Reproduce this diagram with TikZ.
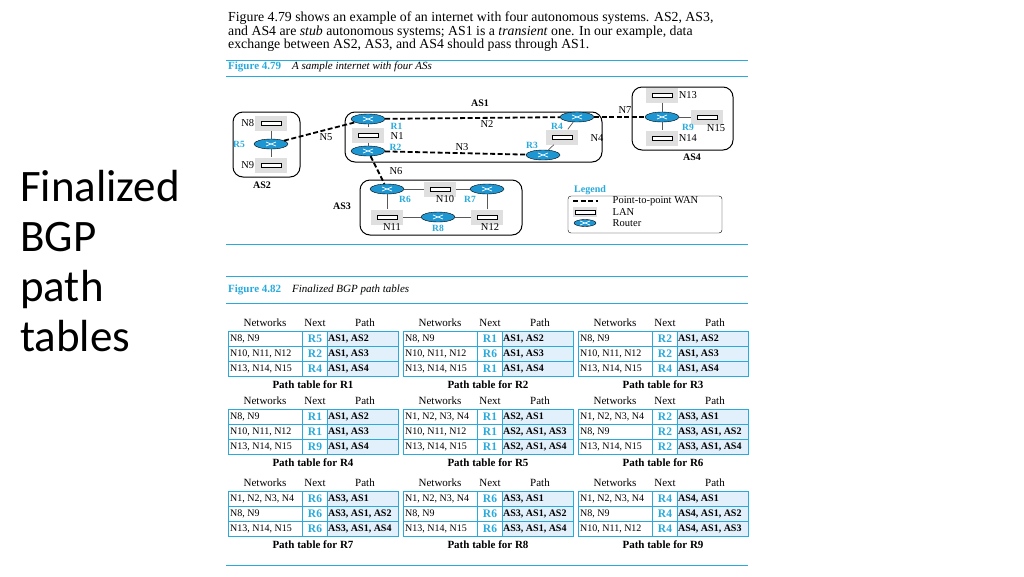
\documentclass[tikz,border=0pt]{standalone}
\usepackage{fontspec}
\setmainfont{Liberation Serif}
\newfontfamily\slidefont{Carlito}
\usetikzlibrary{positioning,shapes.geometric}
\definecolor{figblue}{RGB}{40,170,220}
\definecolor{pathfill}{RGB}{225,240,250}
\definecolor{routerblue}{RGB}{30,150,210}
\tikzset{
  router/.style={ellipse,draw=black,fill=routerblue,minimum width=34pt,minimum height=10pt,inner sep=0pt,
    path picture={\draw[white,line width=.7pt] ([xshift=-5pt,yshift=-2pt]path picture bounding box.center) -- ++(10pt,4pt)
      ([xshift=-5pt,yshift=2pt]path picture bounding box.center) -- ++(10pt,-4pt);}},
  lan/.style={fill=gray!25,minimum width=32pt,minimum height=15pt,inner sep=0pt,
    path picture={\draw[fill=white] ([xshift=-10pt,yshift=-2pt]path picture bounding box.center) rectangle ++(20pt,4pt);}},
  asbox/.style={draw,rounded corners=10pt,line width=1pt},
  wan/.style={line width=1.8pt,dash pattern=on 5pt off 2.5pt},
  link/.style={gray!70!black,line width=.7pt},
  lbl/.style={font=\fontsize{10.5}{11}\selectfont,inner sep=0.5pt},
  rlbl/.style={font=\fontsize{9.5}{10}\selectfont\bfseries,text=figblue,inner sep=0.5pt},
  aslbl/.style={font=\fontsize{10}{11}\selectfont\bfseries,inner sep=1pt},
  cell/.style={font=\fontsize{10}{11}\selectfont,inner sep=1pt},
  rule/.style={figblue,line width=.9pt}
}
% one path table: x, y (top of first row), caption, rows
\newcommand{\ptab}[4]{
  \node[cell,font=\fontsize{11}{12}\selectfont] at (#1+37,#2-8) {Networks};
  \node[cell,font=\fontsize{11}{12}\selectfont] at (#1+87,#2-8) {Next};
  \node[cell,font=\fontsize{11}{12}\selectfont] at (#1+137,#2-8) {Path};
  \fill[pathfill] (#1+99,#2) rectangle (#1+170,#2+45);
  \foreach \n/\h/\p [count=\i] in {#4}{
    \draw[figblue] (#1,#2+\i*15-15) rectangle (#1+170,#2+\i*15);
    \node[cell,anchor=west] at (#1+1,#2+\i*15-7.5) {\n};
    \node[cell,font=\fontsize{11.5}{12}\selectfont\bfseries,text=figblue] at (#1+87,#2+\i*15-7.5) {\h};
    \node[cell,anchor=west,font=\fontsize{10}{11}\selectfont\bfseries] at (#1+99,#2+\i*15-7.5) {\p};
  }
  \draw[figblue] (#1+74,#2) -- (#1+74,#2+45) (#1+99,#2) -- (#1+99,#2+45);
  \node[cell,font=\fontsize{11}{12}\selectfont\bfseries] at (#1+85,#2+54) {#3};
}
\begin{document}
\begin{tikzpicture}[x=1pt,y=-1pt]
\useasboundingbox[fill=white] (0,0) rectangle (1024,576);

% slide title
\node[font=\slidefont\fontsize{45}{50}\selectfont,anchor=west,align=left,inner sep=0pt] (title) at (20,261)
  {Finalized\\BGP\\path\\tables};

% book text
\node[anchor=north west,align=left,font=\fontsize{13.8}{13.5}\selectfont,inner sep=0pt] (intro) at (228,12)
  {Figure 4.79 shows an example of an internet with four autonomous systems. AS2, AS3,\\
   and AS4 are \textit{stub} autonomous systems; AS1 is a \textit{transient} one. In our example, data\\
   exchange between AS2, AS3, and AS4 should pass through AS1.};
\draw[rule] (226,60) -- (748,60);
\node[anchor=west,font=\fontsize{11}{12}\selectfont,inner sep=0pt] (cap1) at (228,67)
  {\textcolor{figblue}{\textbf{Figure 4.79}}\quad \textit{A sample internet with four ASs}};
\draw[rule] (226,76) -- (748,76);

% autonomous systems
\draw[asbox] (233,112) rectangle (300,177);
\draw[asbox] (345,112) rectangle (602,162);
\draw[asbox] (632,87) rectangle (733,150);
\draw[asbox] (360,180) rectangle (522,235);
\node[aslbl] (as1) at (480,103) {AS1};
\node[aslbl] (as2) at (262,185) {AS2};
\node[aslbl] (as3) at (342,206) {AS3};
\node[aslbl] (as4) at (692,157) {AS4};

% AS2
\node[lan] (n8) at (271,123) {};
\node[router] (r5) at (271,144) {};
\node[lan] (n9) at (271,165) {};
\node[lbl,left=0pt of n8] {N8};
\node[lbl,left=0pt of n9] {N9};
\node[rlbl] at (239,144) {R5};

% AS1
\node[lan] (n1) at (368,135) {};
\node[router] (r1) at (368,119) {};
\node[router] (r2) at (368,151) {};
\node[router] (r4) at (577,117) {};
\node[lan] (n4) at (562,137) {};
\node[router] (r3) at (543,155) {};
\node[rlbl,anchor=west] at (390,126) {R1};
\node[lbl,anchor=west] at (390,136) {N1};
\node[rlbl,anchor=west] at (389,147) {R2};
\node[rlbl] at (557,126) {R4};
\node[lbl] at (597,138) {N4};
\node[rlbl] at (532,145) {R3};

% AS4
\node[lan] (n13) at (662,95) {};
\node[router] (r9) at (662,117) {};
\node[lan] (n15) at (707,117) {};
\node[lan] (n14) at (662,138) {};
\node[lbl,right=0pt of n13] {N13};
\node[rlbl] at (688,127) {R9};
\node[lbl] at (716,128) {N15};
\node[lbl,right=0pt of n14] {N14};

% AS3
\node[router] (r6) at (387,189) {};
\node[lan] (n10) at (440,189) {};
\node[router] (r7) at (487,189) {};
\node[lan] (n11) at (387,217) {};
\node[router] (r8) at (438,217) {};
\node[lan] (n12) at (487,217) {};
\node[rlbl] at (405,199) {R6};
\node[lbl] at (445,199) {N10};
\node[rlbl] at (470,199) {R7};
\node[lbl] at (392,227) {N11};
\node[rlbl] at (438,228) {R8};
\node[lbl] at (490,227) {N12};

% LAN links
\draw[link] (n8) -- (r5) -- (n9);
\draw[link] (r1) -- (n1) -- (r2);
\draw[link] (r4) -- (n4) -- (r3);
\draw[link] (n13) -- (r9) -- (n14) (r9) -- (n15);
\draw[link] (r6) -- (n10) -- (r7) (r6) -- (n11) -- (r8) -- (n12) -- (r7);

% WAN links
\draw[wan] (r5) -- (r1);
\draw[wan] (r1) -- (r4);
\draw[wan] (r2) -- (r3);
\draw[wan] (r4) -- (r9);
\draw[wan] (r2) -- (r6);
\node[lbl] at (326,137) {N5};
\node[lbl] at (487,124) {N2};
\node[lbl] at (462,147) {N3};
\node[lbl] at (625,110) {N7};
\node[lbl] at (396,171) {N6};

% legend
\node[font=\fontsize{10}{11}\selectfont\bfseries,text=figblue,anchor=west,inner sep=0pt] (leg) at (574,190) {Legend};
\draw[rounded corners=3pt] (568,196) rectangle (722,233);
\draw[wan] (573,201) -- (598,201);
\node[lan,minimum width=24pt,minimum height=10pt] (leglan) at (585,212) {};
\node[router,minimum width=22pt,minimum height=7pt] (legrt) at (585,223) {};
\node[lbl,anchor=west] at (612,201) {Point-to-point WAN};
\node[lbl,anchor=west] at (612,212) {LAN};
\node[lbl,anchor=west] at (612,223) {Router};
\draw[rule] (226,244) -- (748,244);

% path tables
\draw[rule] (226,276) -- (748,276);
\node[anchor=west,font=\fontsize{11}{12}\selectfont,inner sep=0pt] (cap2) at (228,290)
  {\textcolor{figblue}{\textbf{Figure 4.82}}\quad \textit{Finalized BGP path tables}};
\draw[rule] (226,303) -- (748,303);

\ptab{228}{331}{Path table for R1}{{N8, N9}/R5/{AS1, AS2},{N10, N11, N12}/R2/{AS1, AS3},{N13, N14, N15}/R4/{AS1, AS4}}
\ptab{403}{331}{Path table for R2}{{N8, N9}/R1/{AS1, AS2},{N10, N11, N12}/R6/{AS1, AS3},{N13, N14, N15}/R1/{AS1, AS4}}
\ptab{578}{331}{Path table for R3}{{N8, N9}/R2/{AS1, AS2},{N10, N11, N12}/R2/{AS1, AS3},{N13, N14, N15}/R4/{AS1, AS4}}
\ptab{228}{409}{Path table for R4}{{N8, N9}/R1/{AS1, AS2},{N10, N11, N12}/R1/{AS1, AS3},{N13, N14, N15}/R9/{AS1, AS4}}
\ptab{403}{409}{Path table for R5}{{N1, N2, N3, N4}/R1/{AS2, AS1},{N10, N11, N12}/R1/{AS2, AS1, AS3},{N13, N14, N15}/R1/{AS2, AS1, AS4}}
\ptab{578}{409}{Path table for R6}{{N1, N2, N3, N4}/R2/{AS3, AS1},{N8, N9}/R2/{AS3, AS1, AS2},{N13, N14, N15}/R2/{AS3, AS1, AS4}}
\ptab{228}{491}{Path table for R7}{{N1, N2, N3, N4}/R6/{AS3, AS1},{N8, N9}/R6/{AS3, AS1, AS2},{N13, N14, N15}/R6/{AS3, AS1, AS4}}
\ptab{403}{491}{Path table for R8}{{N1, N2, N3, N4}/R6/{AS3, AS1},{N8, N9}/R6/{AS3, AS1, AS2},{N13, N14, N15}/R6/{AS3, AS1, AS4}}
\ptab{578}{491}{Path table for R9}{{N1, N2, N3, N4}/R4/{AS4, AS1},{N8, N9}/R4/{AS4, AS1, AS2},{N10, N11, N12}/R4/{AS4, AS1, AS3}}
\draw[rule] (226,565) -- (748,565);
\end{tikzpicture}
\end{document}
